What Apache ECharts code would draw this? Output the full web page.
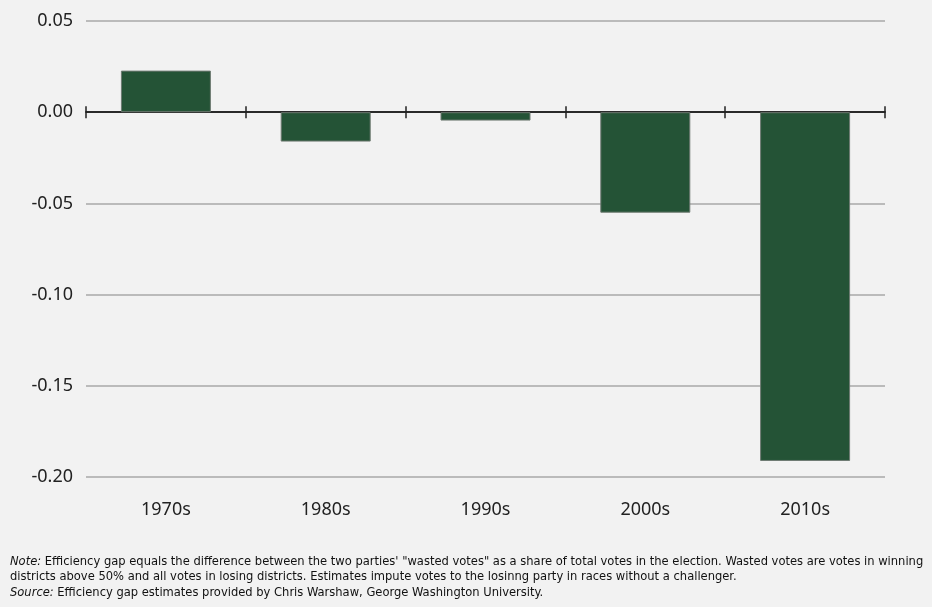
<!DOCTYPE html>
<html><head><meta charset="utf-8">
<script src="https://cdn.jsdelivr.net/npm/echarts@6/dist/echarts.min.js"></script>
<style>html,body{margin:0;padding:0;background:#f2f2f2;}#c{width:932px;height:607px;}</style>
</head><body><div id="c"></div>
<script>
const categories = ['1970s','1980s','1990s','2000s','2010s'];
const values = [0.0228, -0.0161, -0.0046, -0.0551, -0.1912];
const yTicks = [-0.20, 0.05, 0.05]; // min, max, interval
const noteLines = [
  ['Note:', ' Efficiency gap equals the difference between the two parties\' "wasted votes" as a share of total votes in the election. Wasted votes are votes in winning'],
  ['', 'districts above 50% and all votes in losing districts. Estimates impute votes to the losinng party in races without a challenger.'],
  ['Source:', ' Efficiency gap estimates provided by Chris Warshaw, George Washington University.']
];
const font = '"Noto Sans", "Open Sans", sans-serif';
const noteFont = '"Liberation Sans Narrow", "DejaVu Sans Condensed", "Noto Sans", sans-serif';
const chart = echarts.init(document.getElementById('c'));
chart.setOption({
  backgroundColor: '#f2f2f2',
  animation: false,
  grid: {left: 86, right: 47, top: 21, bottom: 130, containLabel: false},
  xAxis: [
    {type: 'category', data: categories, position: 'bottom', axisLine: {show: true, onZero: true, onZeroAxisIndex: 0, lineStyle: {color: '#222', width: 1.5}},
     axisTick: {show: true, length: 6, lineStyle: {color: '#222', width: 1.5}}, axisLabel: {show: false}, splitLine: {show: false}},
    {type: 'category', data: categories, position: 'top', axisLine: {show: true, onZero: true, onZeroAxisIndex: 1, lineStyle: {color: '#222', width: 1.5}},
     axisTick: {show: true, length: 6, lineStyle: {color: '#222', width: 1.5}}, axisLabel: {show: false}, splitLine: {show: false}},
    {type: 'category', data: categories, position: 'bottom', axisLine: {show: false, onZero: false}, axisTick: {show: false},
     axisLabel: {show: true, margin: 24, fontSize: 18, color: '#222', fontFamily: font}, splitLine: {show: false}}
  ],
  yAxis: [{
    type: 'value', min: yTicks[0], max: yTicks[1], interval: yTicks[2],
    axisLine: {show: false}, axisTick: {show: false},
    axisLabel: {margin: 13, fontSize: 18, color: '#222', fontFamily: font, formatter: v => v.toFixed(2)},
    splitLine: {show: true, lineStyle: {color: '#a8a8a8', width: 1.5}}
  }, {
    type: 'value', min: yTicks[0], max: yTicks[1], interval: yTicks[2], position: 'right',
    axisLine: {show: false}, axisTick: {show: false}, axisLabel: {show: false}, splitLine: {show: false}
  }],
  series: [{
    type: 'bar', data: values, xAxisIndex: 0, yAxisIndex: 0, barWidth: 90,
    itemStyle: {color: '#245336', borderColor: '#6e7a72', borderWidth: 1}
  }],
  graphic: noteLines.map((ln, i) => ({
    type: 'text', left: 10, top: 555 + i * 15.5,
    style: {text: (ln[0] ? '{i|' + ln[0] + '}' : '') + '{n|' + ln[1] + '}',
      rich: {i: {fontStyle: 'italic', fontSize: 12.8, fontFamily: noteFont, fill: '#111'},
             n: {fontSize: 12.8, fontFamily: noteFont, fill: '#111'}}}
  }))
});
</script></body></html>
